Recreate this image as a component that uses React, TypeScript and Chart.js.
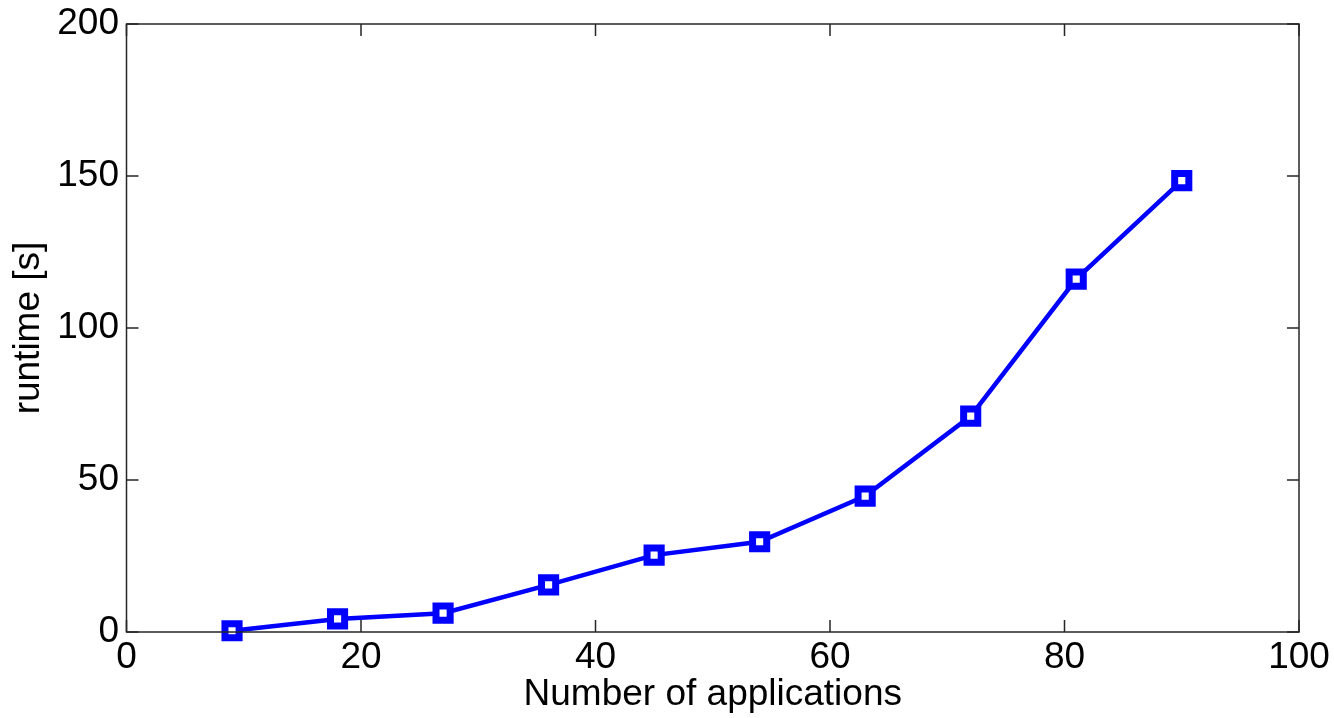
import React, { useEffect, useRef } from "react";
import { Chart, registerables } from "chart.js";

Chart.register(...registerables);

const applications = [9, 18, 27, 36, 45, 54, 63, 72, 81, 90];
const runtimes = [0.4, 4.3, 6.2, 15.5, 25.3, 29.7, 44.7, 71.0, 116.1, 148.5];
const xTicks = [0, 20, 40, 60, 80, 100];
const yTicks = [0, 50, 100, 150, 200];
const xTitle = "Number of applications";
const yTitle = "runtime [s]";

const FONT = "'Liberation Sans', Arial, Helvetica, sans-serif";

const boxPlugin = {
  id: "matlabBox",
  afterDraw(chart: any) {
    const { ctx, chartArea } = chart;
    const { left, right, top, bottom } = chartArea;
    const xs = chart.scales.x;
    const ys = chart.scales.y;
    const tl = 12;
    ctx.save();
    ctx.strokeStyle = "#262626";
    ctx.lineWidth = 1.5;
    ctx.beginPath();
    for (const v of xTicks) {
      const px = xs.getPixelForValue(v);
      ctx.moveTo(px, bottom);
      ctx.lineTo(px, bottom - tl);
      ctx.moveTo(px, top);
      ctx.lineTo(px, top + tl);
    }
    for (const v of yTicks) {
      const py = ys.getPixelForValue(v);
      ctx.moveTo(left, py);
      ctx.lineTo(left + tl, py);
      ctx.moveTo(right, py);
      ctx.lineTo(right - tl, py);
    }
    ctx.stroke();
    ctx.strokeRect(left, top, right - left, bottom - top);
    ctx.restore();
  },
};

export default function App() {
  const ref = useRef<HTMLCanvasElement | null>(null);

  useEffect(() => {
    if (!ref.current) return;
    const chart = new Chart(ref.current, {
      type: "line",
      data: {
        datasets: [
          {
            data: applications.map((x, i) => ({ x, y: runtimes[i] })),
            borderColor: "#0000ff",
            borderWidth: 4.5,
            pointStyle: "rect",
            pointRadius: 10,
            pointBorderWidth: 7,
            pointBackgroundColor: "#ffffff",
            pointBorderColor: "#0000ff",
            tension: 0,
            clip: false as any,
          },
        ],
      },
      options: {
        animation: false,
        responsive: false,
        events: [],
        layout: { padding: { top: 24, right: 35, bottom: 0, left: 0 } },
        plugins: {
          legend: { display: false },
          tooltip: { enabled: false },
        },
        scales: {
          x: {
            type: "linear",
            min: 0,
            max: 100,
            afterBuildTicks: (s: any) => {
              s.ticks = xTicks.map((v) => ({ value: v }));
            },
            afterFit: (s: any) => {
              s.height = 86;
              s.paddingLeft = 0;
              s.paddingRight = 0;
            },
            grid: { display: false, drawTicks: false },
            border: { display: false },
            ticks: {
              padding: 7.5,
              color: "#000",
              font: { family: FONT, size: 37, lineHeight: 1 },
              maxRotation: 0,
              autoSkip: false,
            },
            title: {
              display: true,
              text: xTitle,
              color: "#000",
              font: { family: FONT, size: 37, lineHeight: 1.2 },
              padding: { top: 0, bottom: 1 },
            },
          },
          y: {
            type: "linear",
            min: 0,
            max: 200,
            afterBuildTicks: (s: any) => {
              s.ticks = yTicks.map((v) => ({ value: v }));
            },
            afterFit: (s: any) => {
              s.width = 126.5;
              s.paddingTop = 0;
              s.paddingBottom = 0;
            },
            grid: { display: false, drawTicks: false },
            border: { display: false },
            ticks: {
              padding: 7.5,
              color: "#000",
              font: { family: FONT, size: 37, lineHeight: 1 },
              autoSkip: false,
            },
            title: {
              display: true,
              text: yTitle,
              color: "#000",
              font: { family: FONT, size: 37, lineHeight: 1.2 },
              padding: { top: 7, bottom: 0 },
            },
          },
        },
      },
      plugins: [boxPlugin],
    });
    return () => chart.destroy();
  }, []);

  return (
    <div style={{ position: "absolute", left: 0, top: 0, width: 1334, height: 718, background: "#fff" }}>
      <canvas ref={ref} width={1334} height={718} style={{ display: "block" }} />
    </div>
  );
}
